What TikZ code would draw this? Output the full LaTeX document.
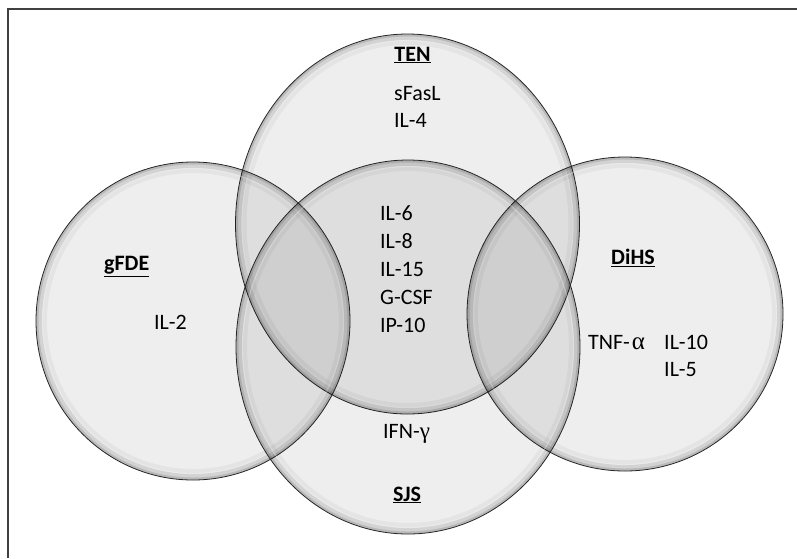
\documentclass[tikz,border=0pt]{standalone}
\usepackage{fontspec}
\setmainfont{Carlito}
\newfontfamily\grk{Liberation Serif}
\newcommand\vennEllipse[3]{%
  \fill[black, fill opacity=0.065] (#1) ellipse[x radius=#2pt, y radius=#3pt];
  \begin{scope}
    \clip (#1) ellipse[x radius=#2pt, y radius=#3pt];
    \draw[black, draw opacity=0.04, line width=22pt] (#1) ellipse[x radius=#2pt, y radius=#3pt];
    \draw[black, draw opacity=0.07, line width=12pt] (#1) ellipse[x radius=#2pt, y radius=#3pt];
    \draw[black, draw opacity=0.12, line width=5pt] (#1) ellipse[x radius=#2pt, y radius=#3pt];
    \draw[white, draw opacity=0.25, line width=1.2pt] (#1) ellipse[x radius=#2pt-6.5pt, y radius=#3pt-6.5pt];
  \end{scope}
  \draw[black!85, line width=0.8pt] (#1) ellipse[x radius=#2pt, y radius=#3pt];
}
\begin{document}
\begin{tikzpicture}[x=1pt,y=-1pt,
  txt/.style={inner sep=0pt, font=\fontsize{22}{26}\selectfont},
  lbl/.style={inner sep=0pt, font=\fontsize{22}{26}\selectfont\bfseries}]
\useasboundingbox (0,0) rectangle (797,558);
\fill[white] (0,0) rectangle (797,558);
% frame (cut at right and bottom)
\draw[black!75, line width=1.6pt] (8,558) -- (8,9) -- (797,9);
% ellipse centres
\coordinate (cTEN) at (407.5,224);
\coordinate (cSJS) at (408,347);
\coordinate (cFDE) at (193,321);
\coordinate (cDIH) at (625,314);
\vennEllipse{cTEN}{172}{190}
\vennEllipse{cFDE}{157}{159}
\vennEllipse{cDIH}{158}{157}
\vennEllipse{cSJS}{172}{187}
% labels
\node[lbl, anchor=base] (ten) at (412.5,61) {\underline{TEN}};
\node[txt, anchor=base west] (sfasl) at (394,100) {sFasL};
\node[txt, anchor=base west] (il4) at (394,127.5) {IL-4};
\node[txt, anchor=base west] (il6) at (380,220.2) {IL-6};
\node[txt, anchor=base west] (il8) at (380,248.7) {IL-8};
\node[txt, anchor=base west] (il15) at (380,276.7) {IL-15};
\node[txt, anchor=base west] (gcsf) at (380,304.7) {G-CSF};
\node[txt, anchor=base west] (ip10) at (380,332.3) {IP-10};
\node[lbl, anchor=base] (gfde) at (126.7,270.7) {\underline{gFDE}};
\node[txt, anchor=base west] (il2) at (154,329) {IL-2};
\node[lbl, anchor=base] (dihs) at (633,264.5) {\underline{DiHS}};
\node[txt, anchor=base west] (tnfa) at (588,349) {TNF-\kern2pt{\grk\fontsize{25}{26}\selectfont α}};
\node[txt, anchor=base west] (il10) at (664,349) {IL-10};
\node[txt, anchor=base west] (il5) at (664,376.7) {IL-5};
\node[txt, anchor=base west] (ifng) at (383,438.3) {IFN-{\grk\fontsize{23}{26}\selectfont γ}};
\node[lbl, anchor=base] (sjs) at (407,501) {\underline{SJS}};
\end{tikzpicture}
\end{document}
